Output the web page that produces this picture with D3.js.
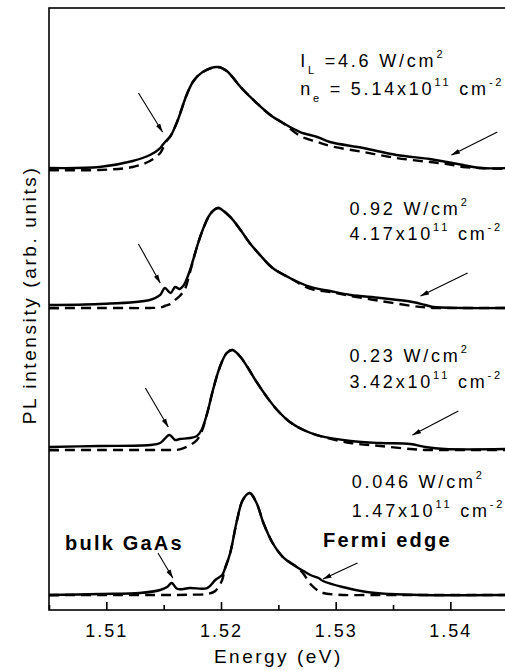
<!DOCTYPE html>
<html>
<head>
<meta charset="utf-8">
<script src="https://cdn.jsdelivr.net/npm/d3@7"></script>
<style>
  body { margin: 0; background: #fff; }
  svg { display: block; font-family: "Liberation Sans", Arial, sans-serif; }
</style>
</head>
<body>
<div id="chart"></div>
<script>
// ---- data ----
var majorTicks = [1.51, 1.52, 1.53, 1.54];
var minorTicks = [1.505, 1.515, 1.525, 1.535];
var xTitle = 'Energy (eV)';
var yTitle = 'PL intensity (arb. units)';

// vertical offset of each spectrum (arb. units), top to bottom
var offsets = [73.09, 50.17, 26.58, 2.49];

// 4.6 W/cm2
var energy1 = [1.5050, 1.5094, 1.5123, 1.5138, 1.5147, 1.5149, 1.5152, 1.5156, 1.5162, 1.5170,
               1.5176, 1.5184, 1.5197, 1.5205, 1.5217, 1.5231, 1.5243, 1.5254, 1.5269, 1.5284,
               1.5295, 1.5324, 1.5353, 1.5382, 1.5397, 1.5411, 1.5426, 1.5450];
var pl1 =      [0.33, 0.50, 1.50, 2.49, 3.65, 4.15, 4.82, 5.65, 8.14, 12.46,
                14.78, 16.28, 17.11, 16.45, 13.79, 11.13, 9.14, 7.81, 6.31, 5.48,
                4.65, 3.65, 2.49, 1.83, 1.33, 0.83, 0.33, 0.33];
var fit1 =     [0.00, 0.00, 0.50, 1.50, 2.82, 3.49, 4.65, 5.65, 8.14, 12.46,
                14.78, 16.28, 17.11, 16.45, 13.79, 11.13, 9.14, 7.81, 5.65, 4.65,
                3.99, 2.99, 1.99, 1.33, 1.00, 0.50, 0.33, 0.17];

// 0.92 W/cm2
var energy2 = [1.5050, 1.5094, 1.5138, 1.5147, 1.5151, 1.5156, 1.5160, 1.5164, 1.5167, 1.5169,
               1.5173, 1.5179, 1.5184, 1.5190, 1.5195, 1.5198, 1.5208, 1.5217, 1.5225, 1.5234,
               1.5245, 1.5260, 1.5278, 1.5295, 1.5313, 1.5339, 1.5367, 1.5378, 1.5385, 1.5411, 1.5450];
var pl2 =      [0.50, 0.66, 1.33, 2.16, 3.32, 2.49, 3.49, 3.16, 3.65, 4.32,
                6.31, 10.13, 12.96, 15.45, 16.45, 16.61, 15.12, 12.96, 10.80, 8.80,
                6.64, 4.98, 3.49, 2.82, 2.16, 1.66, 1.00, 0.50, 0.17, 0.00, 0.00];
var fit2 =     [0.00, 0.00, 0.00, 0.08, 0.33, 0.66, 1.33, 1.99, 2.66, 3.32,
                5.98, 10.13, 12.96, 15.45, 16.45, 16.61, 15.12, 12.96, 10.80, 8.80,
                6.64, 4.98, 3.16, 2.66, 1.99, 1.16, 0.33, 0.10, 0.00, 0.00, 0.00];

// 0.23 W/cm2
var energy3 = [1.5050, 1.5094, 1.5138, 1.5147, 1.5155, 1.5160, 1.5164, 1.5173, 1.5179, 1.5183,
               1.5188, 1.5193, 1.5199, 1.5205, 1.5210, 1.5217, 1.5223, 1.5231, 1.5240, 1.5249,
               1.5260, 1.5272, 1.5286, 1.5313, 1.5339, 1.5365, 1.5378, 1.5395, 1.5450];
var pl3 =      [0.50, 0.66, 0.83, 1.16, 2.49, 1.66, 1.83, 1.99, 2.33, 3.32,
                6.15, 9.97, 13.79, 16.11, 16.61, 15.45, 13.79, 11.30, 8.80, 6.64,
                4.65, 3.32, 2.33, 1.50, 1.16, 1.00, 0.50, 0.17, 0.17];
var fit3 =     [0.00, 0.00, 0.00, 0.00, 0.00, 0.00, 0.10, 0.80, 1.66, 3.00,
                6.15, 9.97, 13.79, 16.11, 16.61, 15.45, 13.79, 11.30, 8.80, 6.64,
                4.65, 3.32, 2.33, 1.16, 0.66, 0.17, 0.00, 0.00, 0.00];

// 0.046 W/cm2
var energy4 = [1.5050, 1.5094, 1.5129, 1.5147, 1.5153, 1.5157, 1.5162, 1.5173, 1.5188, 1.5195,
               1.5201, 1.5203, 1.5208, 1.5214, 1.5219, 1.5225, 1.5231, 1.5237, 1.5245, 1.5254,
               1.5266, 1.5272, 1.5278, 1.5285, 1.5289, 1.5306, 1.5327, 1.5347, 1.5374, 1.5450];
var pl4 =      [0.00, 0.17, 0.33, 0.83, 1.33, 1.99, 1.00, 1.16, 1.16, 2.49,
                3.32, 4.15, 6.98, 12.46, 15.78, 16.94, 15.28, 11.96, 8.64, 6.31,
                4.65, 3.99, 3.32, 2.82, 2.33, 1.33, 0.50, 0.17, 0.00, 0.00];
var fit4 =     [0.00, 0.00, 0.00, 0.00, 0.00, 0.00, 0.00, 0.05, 0.17, 0.66,
                2.49, 4.15, 6.98, 12.46, 15.78, 16.94, 15.28, 11.96, 8.64, 6.31,
                4.65, 3.49, 1.83, 0.66, 0.33, 0.00, 0.00, 0.00, 0.00, 0.00];

// annotation texts
var powerLabels = ['I_{L} =4.6 W/cm^{2}', '0.92 W/cm^{2}', '0.23 W/cm^{2}', '0.046 W/cm^{2}'];
var densityLabels = ['n_{e} = 5.14x10^{11} cm^{-2}', '4.17x10^{11} cm^{-2}',
                     '3.42x10^{11} cm^{-2}', '1.47x10^{11} cm^{-2}'];
// where those labels sit: [energy, intensity of first line, intensity of second line]
var labelAnchors = [[1.5269, 90.20, 85.55], [1.5312, 65.61, 61.46],
                    [1.5312, 41.20, 36.88], [1.5314, 20.27, 15.45]];

var boldLabels = ['bulk GaAs', 'Fermi edge'];
var boldAnchors = [[1.5064, 9.97], [1.5289, 10.47]];

// arrows: [fromEnergy, fromIntensity, toEnergy, toIntensity]
var arrows = [
  [1.5128, 85.88, 1.5149, 79.40],
  [1.5441, 79.40, 1.5401, 75.58],
  [1.5128, 60.80, 1.5147, 54.32],
  [1.5415, 55.98, 1.5374, 52.16],
  [1.5134, 36.88, 1.5154, 30.40],
  [1.5407, 33.06, 1.5367, 29.07],
  [1.5145, 9.47, 1.5158, 5.32],
  [1.5319, 7.81, 1.5289, 5.15]
];

(function (window, document, undefined) {

  'use strict';

  var W = 505, H = 670;
  var left = 49, top = 8, right = 507.7, bottom = 610;

  var spectra = [
    { e: energy1, pl: pl1, fit: fit1 },
    { e: energy2, pl: pl2, fit: fit2 },
    { e: energy3, pl: pl3, fit: fit3 },
    { e: energy4, pl: pl4, fit: fit4 }
  ];

  var x = d3.scaleLinear().domain([1.505, 1.545]).range([left, right]);
  var y = d3.scaleLinear().domain([0, 100]).range([bottom, top]);

  var svg = d3.select('#chart').append('svg')
    .attr('width', W)
    .attr('height', H);

  svg.append('defs').append('marker')
    .attr('id', 'head')
    .attr('markerUnits', 'userSpaceOnUse')
    .attr('markerWidth', 9)
    .attr('markerHeight', 6)
    .attr('refX', 8.5)
    .attr('refY', 3)
    .attr('orient', 'auto')
    .append('path')
    .attr('d', 'M0,0.6 L9,3 L0,5.4 Z')
    .attr('fill', '#000');

  // frame
  svg.append('rect')
    .attr('x', left)
    .attr('y', top)
    .attr('width', right - left)
    .attr('height', bottom - top)
    .attr('fill', 'none')
    .attr('stroke', '#000')
    .attr('stroke-width', 1.6);

  // bottom axis, ticks pointing inside
  var xAxis = svg.append('g')
    .attr('transform', 'translate(0,' + bottom + ')')
    .call(d3.axisBottom(x)
      .tickValues(majorTicks)
      .tickSize(-8)
      .tickSizeOuter(0)
      .tickPadding(14)
      .tickFormat(d3.format('.2f')));
  xAxis.select('.domain').remove();
  xAxis.selectAll('line').attr('stroke-width', 1.6);
  xAxis.selectAll('text')
    .attr('font-family', '"Liberation Sans", Arial, sans-serif')
    .attr('font-size', 18)
    .attr('letter-spacing', 2)
    .attr('fill', '#000');

  var xMinor = svg.append('g')
    .attr('transform', 'translate(0,' + bottom + ')')
    .call(d3.axisBottom(x).tickValues(minorTicks).tickSize(-5).tickSizeOuter(0).tickFormat(''));
  xMinor.select('.domain').remove();
  xMinor.selectAll('line').attr('stroke-width', 1.6);

  // left axis: a tick at each spectrum's zero
  var yAxis = svg.append('g')
    .attr('transform', 'translate(' + left + ',0)')
    .call(d3.axisLeft(y).tickValues(offsets).tickSize(-10).tickSizeOuter(0).tickFormat(''));
  yAxis.select('.domain').remove();
  yAxis.selectAll('line').attr('stroke-width', 1.6);

  // axis titles
  svg.append('text')
    .attr('x', (left + right) / 2)
    .attr('y', 663)
    .attr('text-anchor', 'middle')
    .attr('font-size', 19)
    .attr('letter-spacing', 2.5)
    .text(xTitle);

  svg.append('text')
    .attr('transform', 'translate(36,295) rotate(-90)')
    .attr('text-anchor', 'middle')
    .attr('font-size', 19)
    .attr('letter-spacing', 2.6)
    .text(yTitle);

  // spectra
  var plot = svg.append('g');

  spectra.forEach(function (s, i) {
    var base = offsets[i];
    var line = function (values) {
      return d3.line()
        .x(function (d, k) { return x(s.e[k]); })
        .y(function (d) { return y(base + d); })
        .curve(d3.curveCatmullRom.alpha(0.5))(values);
    };

    plot.append('path')
      .attr('d', line(s.fit))
      .attr('fill', 'none')
      .attr('stroke', '#000')
      .attr('stroke-width', 2.4)
      .attr('stroke-dasharray', '10,6');

    plot.append('path')
      .attr('d', line(s.pl))
      .attr('fill', 'none')
      .attr('stroke', '#000')
      .attr('stroke-width', 2.4)
      .attr('stroke-linejoin', 'round');
  });

  // arrows
  svg.append('g').selectAll('line')
    .data(arrows)
    .join('line')
    .attr('x1', function (d) { return x(d[0]); })
    .attr('y1', function (d) { return y(d[1]); })
    .attr('x2', function (d) { return x(d[2]); })
    .attr('y2', function (d) { return y(d[3]); })
    .attr('stroke', '#000')
    .attr('stroke-width', 1.1)
    .attr('marker-end', 'url(#head)');

  // text with _{sub} and ^{sup}
  var writeRich = function (sel, str) {
    var parts = str.split(/([_^]\{[^}]*\})/);
    var shift = 0;
    parts.forEach(function (p) {
      if (!p) return;
      var t = sel.append('tspan');
      if (p.charAt(0) === '_' || p.charAt(0) === '^') {
        var dy = p.charAt(0) === '_' ? 7 : -9;
        t.attr('font-size', 11).attr('dy', dy - shift).text(p.slice(2, -1));
        shift = dy;
      } else {
        t.attr('dy', -shift).text(p);
        shift = 0;
      }
    });
  };

  var labels = svg.append('g')
    .attr('font-size', 18)
    .attr('letter-spacing', 2.8);

  labelAnchors.forEach(function (a, i) {
    writeRich(labels.append('text').attr('x', x(a[0])).attr('y', y(a[1])), powerLabels[i]);
    writeRich(labels.append('text').attr('x', x(a[0])).attr('y', y(a[2])), densityLabels[i]);
  });

  boldAnchors.forEach(function (a, i) {
    svg.append('text')
      .attr('x', x(a[0]))
      .attr('y', y(a[1]))
      .attr('font-size', 20)
      .attr('font-weight', 'bold')
      .attr('letter-spacing', 2.2)
      .text(boldLabels[i]);
  });

})(window, document);
</script>
</body>
</html>
